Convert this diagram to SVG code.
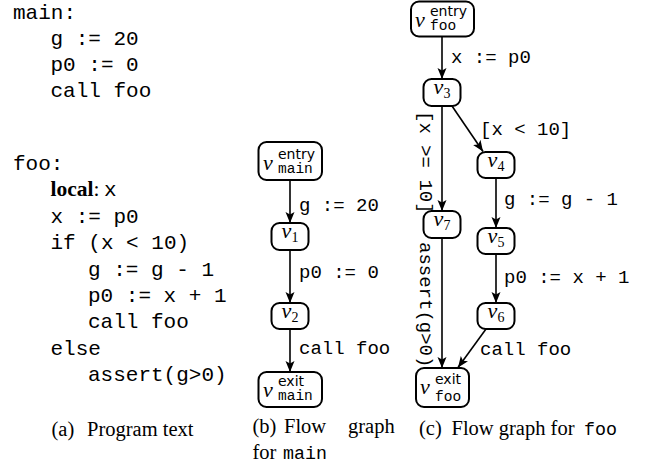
<svg xmlns="http://www.w3.org/2000/svg" width="646" height="465" viewBox="0 0 646 465">
<style>
.code{font-family:"Liberation Mono",monospace;font-size:21px;fill:#000}
.lbl{font-family:"Liberation Mono",monospace;font-size:19px;fill:#000}
.cap{font-family:"Liberation Serif",serif;font-size:20.5px;fill:#000}
.capm{font-family:"Liberation Mono",monospace;font-size:18.3px;fill:#000}
.box{fill:#fff;stroke:#000;stroke-width:2}
.v{font-family:"Liberation Serif",serif;font-style:italic;font-size:22px;fill:#000}
.vs{font-family:"Liberation Serif",serif;font-style:normal;font-size:14px}
.sup{font-family:"DejaVu Sans",sans-serif;font-size:14px;fill:#000}
.sub{font-family:"Liberation Mono",monospace;font-size:14.5px;fill:#000}
.edge{stroke:#000;stroke-width:1.6;fill:none;marker-end:url(#ah)}
</style>
<defs>
<marker id="ah" markerUnits="userSpaceOnUse" markerWidth="12" markerHeight="10" refX="11" refY="5" orient="auto">
<path d="M0,0.5 L11,5 L0,9.5 L2.5,5 z" fill="#000"/>
</marker>
</defs>
<rect width="646" height="465" fill="#fff"/>

<g id="program-text">
<text class="code" x="13" y="19">main:</text>
<text class="code" x="50.5" y="45">g := 20</text>
<text class="code" x="50.5" y="71">p0 := 0</text>
<text class="code" x="50.5" y="97">call foo</text>
<text class="code" x="13" y="170">foo:</text>
<text x="50.5" y="196" style="font-family:'Liberation Serif',serif;font-size:21.5px"><tspan font-weight="bold">local</tspan><tspan>:</tspan></text>
<text class="code" x="104" y="196">x</text>
<text class="code" x="50.5" y="222.5">x := p0</text>
<text class="code" x="50.5" y="249">if (x &lt; 10)</text>
<text class="code" x="88" y="276">g := g - 1</text>
<text class="code" x="88" y="302">p0 := x + 1</text>
<text class="code" x="88" y="328">call foo</text>
<text class="code" x="50.5" y="355">else</text>
<text class="code" x="88" y="381">assert(g&gt;0)</text>
</g>

<g id="connectors">
<line class="edge" x1="290" y1="180" x2="290" y2="223"/>
<line class="edge" x1="290" y1="250" x2="290" y2="303"/>
<line class="edge" x1="290" y1="329" x2="290" y2="372"/>
<line class="edge" x1="442" y1="36.5" x2="442" y2="79"/>
<line class="edge" x1="452" y1="106" x2="483" y2="151.5"/>
<line class="edge" x1="442" y1="106" x2="442" y2="211"/>
<line class="edge" x1="496" y1="178" x2="496" y2="228"/>
<line class="edge" x1="496" y1="254" x2="496" y2="303"/>
<line class="edge" x1="442" y1="238" x2="442" y2="368"/>
<line class="edge" x1="486" y1="329" x2="458" y2="367.5"/>
</g>

<g id="edge-labels">
<text class="lbl" x="299" y="211">g := 20</text>
<text class="lbl" x="299" y="278">p0 := 0</text>
<text class="lbl" x="299" y="354">call foo</text>
<text class="lbl" x="451" y="62.5">x := p0</text>
<text class="lbl" x="480" y="135">[x &lt; 10]</text>
<text class="lbl" transform="translate(420,111) rotate(90)">[x &gt;= 10]</text>
<text class="lbl" x="504" y="205">g := g - 1</text>
<text class="lbl" x="504" y="283">p0 := x + 1</text>
<text class="lbl" transform="translate(420,242) rotate(90)">assert(g&gt;0)</text>
<text class="lbl" x="480" y="355">call foo</text>
</g>

<g id="v-main-entry">
<rect class="box" x="258.5" y="142" width="63.5" height="38" rx="8"/>
<text class="v" x="263" y="170">v</text>
<text class="sup" x="278" y="159">entry</text>
<text class="sub" x="278" y="173">main</text>
</g>
<g id="v1">
<rect class="box" x="271.5" y="223" width="37" height="27" rx="8"/>
<text class="v" x="290" y="238" text-anchor="middle">v<tspan class="vs" dy="4">1</tspan></text>
</g>
<g id="v2">
<rect class="box" x="271.5" y="303" width="37" height="26" rx="8"/>
<text class="v" x="290" y="318" text-anchor="middle">v<tspan class="vs" dy="4">2</tspan></text>
</g>
<g id="v-main-exit">
<rect class="box" x="258.5" y="372" width="63.5" height="35" rx="8"/>
<text class="v" x="263" y="397">v</text>
<text class="sup" x="278" y="386">exit</text>
<text class="sub" x="278" y="400">main</text>
</g>

<g id="v-foo-entry">
<rect class="box" x="411" y="1.5" width="63" height="35" rx="8"/>
<text class="v" x="415" y="27">v</text>
<text class="sup" x="430" y="16">entry</text>
<text class="sub" x="430" y="30">foo</text>
</g>
<g id="v3">
<rect class="box" x="423.5" y="79" width="37" height="27" rx="8"/>
<text class="v" x="442" y="94" text-anchor="middle">v<tspan class="vs" dy="4">3</tspan></text>
</g>
<g id="v4">
<rect class="box" x="477.5" y="152" width="37" height="26" rx="8"/>
<text class="v" x="496" y="167" text-anchor="middle">v<tspan class="vs" dy="4">4</tspan></text>
</g>
<g id="v7">
<rect class="box" x="423.5" y="211" width="37" height="27" rx="8"/>
<text class="v" x="442" y="226" text-anchor="middle">v<tspan class="vs" dy="4">7</tspan></text>
</g>
<g id="v5">
<rect class="box" x="477.5" y="228" width="37" height="26" rx="8"/>
<text class="v" x="496" y="243" text-anchor="middle">v<tspan class="vs" dy="4">5</tspan></text>
</g>
<g id="v6">
<rect class="box" x="477.5" y="303" width="37" height="26" rx="8"/>
<text class="v" x="496" y="318" text-anchor="middle">v<tspan class="vs" dy="4">6</tspan></text>
</g>
<g id="v-foo-exit">
<rect class="box" x="416" y="368" width="53" height="39" rx="8"/>
<text class="v" x="420" y="394">v</text>
<text class="sup" x="435" y="384">exit</text>
<text class="sub" x="435" y="401">foo</text>
</g>

<g id="captions">
<text class="cap" x="51.5" y="436">(a)</text>
<text class="cap" x="87" y="436">Program text</text>
<text class="cap" x="252.5" y="433">(b)</text>
<text class="cap" x="284" y="433">Flow</text>
<text class="cap" x="348" y="433">graph</text>
<text class="cap" x="252.5" y="459">for</text>
<text class="capm" x="283" y="459">main</text>
<text class="cap" x="419" y="435">(c)</text>
<text class="cap" x="451.5" y="435">Flow graph for</text>
<text class="capm" x="584" y="435">foo</text>
</g>
</svg>
